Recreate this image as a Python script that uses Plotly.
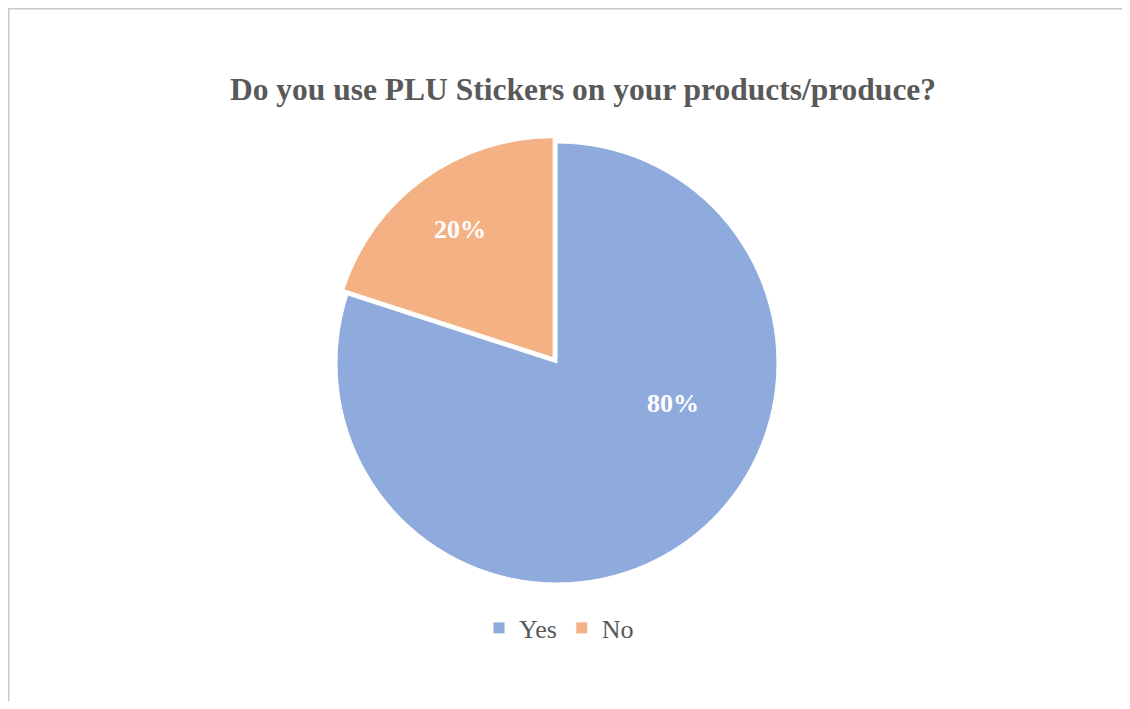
import math
import plotly.graph_objects as go

labels = ["Yes", "No"]
values = [80, 20]
colors = ["#8FAADC", "#F4B183"]
pulls = [0, 0.03]
title_text = "Do you use PLU Stickers on your products/produce?"

# label placement (angle offset from slice bisector, degrees; radius fraction)
label_angle_offset = [-35, 0]
label_radius = [0.56, 0.72]

# page body has an 8px margin; work in figure coordinates (reference - 8)
W, H = 1114, 693
cx, cy, r = 549, 355, 220
half = r * 1.03

fig = go.Figure(go.Pie(
    labels=labels, values=values, sort=False, direction="clockwise", rotation=0,
    marker=dict(colors=colors, line=dict(color="white", width=1)),
    pull=pulls, textinfo="none",
    hoverinfo="label+percent",
    domain=dict(x=[(cx - half) / W, (cx + half) / W],
                y=[(H - cy - half) / H, (H - cy + half) / H]),
))

total = sum(values)
annotations = []
cum = 0
for v, p, da, rf in zip(values, pulls, label_angle_offset, label_radius):
    mid = (cum + v / 2) / total * 360
    cum += v
    ox = p * r * math.sin(math.radians(mid))
    oy = -p * r * math.cos(math.radians(mid))
    a = math.radians(mid + da)
    px = cx + ox + rf * r * math.sin(a)
    py = cy + oy - rf * r * math.cos(a)
    annotations.append(dict(
        text="<b>%d%%</b>" % round(v / total * 100), x=px / W, y=1 - py / H,
        xref="paper", yref="paper", xanchor="center", yanchor="middle", showarrow=False,
        font=dict(family="Liberation Serif", size=26, color="white")))

fig.update_layout(
    width=W, height=H,
    margin=dict(l=0, r=0, t=0, b=0),
    paper_bgcolor="white",
    title=dict(text="<b>" + title_text + "</b>", x=575 / W, xanchor="center",
               y=1 - 81 / H, yanchor="middle",
               font=dict(family="Liberation Serif", size=31.5, color="#595959")),
    showlegend=True,
    legend=dict(orientation="h", x=551 / W, xanchor="center", y=1 - 620 / H, yanchor="middle",
                font=dict(family="Liberation Serif", size=26, color="#595959"),
                itemwidth=30, traceorder="normal"),
    annotations=annotations,
    shapes=[
        dict(type="line", xref="paper", yref="paper", x0=0.5 / W, x1=0.5 / W, y0=0, y1=1,
             line=dict(color="#C8C8C8", width=2)),
        dict(type="line", xref="paper", yref="paper", x0=0, x1=1, y0=1 - 0.5 / H, y1=1 - 0.5 / H,
             line=dict(color="#C8C8C8", width=2)),
    ],
)

fig.write_html("out.html")
